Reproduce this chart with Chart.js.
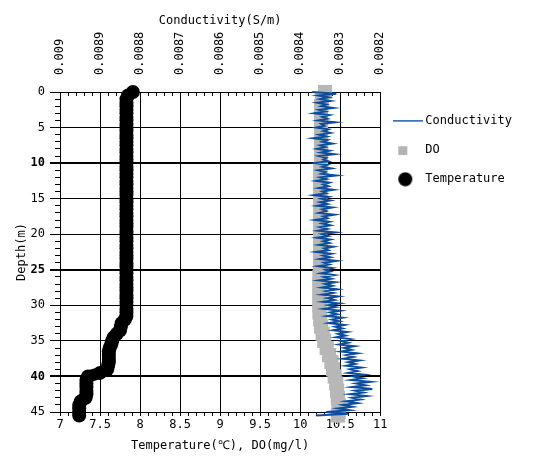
<!DOCTYPE html>
<html>
<head>
<meta charset="utf-8">
<script src="https://cdn.jsdelivr.net/npm/chart.js@4.4.1/dist/chart.umd.min.js"></script>
<style>
html,body{margin:0;padding:0;background:#fff;}
canvas{display:block;}
</style>
</head>
<body>
<canvas id="c" width="537" height="456"></canvas>
<script>
// ---------- tick labels ----------
const tempTickLabels = ['7','7.5','8','8.5','9','9.5','10','10.5','11'];
const condTickLabels = ['0.009','0.0089','0.0088','0.0087','0.0086','0.0085','0.0084','0.0083','0.0082'];
const depthTickLabels = ['0','5','10','15','20','25','30','35','40','45'];
const boldDepths = [10, 25, 40];

// ---------- Temperature (deg C) ----------
const tempDepth = [0,0.5,1,1.5,2,2.5,3,3.5,4,4.5,5,5.5,6,6.5,7,7.5,8,8.5,9,9.5,10,10.5,11,11.5,12,12.5,13,13.5,14,14.5,15,15.5,16,16.5,17,17.5,18,18.5,19,19.5,20,20.5,21,21.5,22,22.5,23,23.5,24,24.5,25,25.5,26,26.5,27,27.5,28,28.5,29,29.5,30,30.5,31,31.5,32,32.5,33,33.5,34,34.5,35,35.5,36,36.5,37,37.5,38,38.5,39,39.5,40,40.5,41,41.5,42,42.5,43,43.5,44,44.5,45,45.5];
const tempValues = [7.91,7.85,
7.83,7.83,7.83,7.83,7.83,7.83,7.83,7.83,7.83,7.83,
7.83,7.83,7.83,7.83,7.83,7.83,7.83,7.83,7.83,7.83,
7.83,7.83,7.83,7.83,7.83,7.83,7.83,7.83,7.83,7.83,
7.83,7.83,7.83,7.83,7.83,7.83,7.83,7.83,7.83,7.83,
7.83,7.83,7.83,7.83,7.83,7.83,7.83,7.83,7.83,7.83,
7.83,7.83,7.83,7.83,7.83,7.83,7.83,7.83,7.83,7.83,
7.83,7.83,
7.81,7.77,7.76,7.75,7.71,7.67,7.65,7.64,7.62,7.61,7.61,7.61,7.61,7.60,7.59,7.50,
7.35,7.33,7.33,7.33,7.33,7.33,7.32,7.26,7.24,7.24,7.24,7.24];

// ---------- DO (mg/l) ----------
const doDepth = [0,1,2,3,4,5,6,7,8,9,10,11,12,13,14,15,16,17,18,19,20,21,22,23,24,25,26,27,28,29,30,31,32,33,34,35,36,37,38,39,40,41,42,43,44,45,45.5];
const doValues = [10.31,10.27,
10.26,10.26,10.26,10.26,10.26,10.26,10.26,10.26,10.26,
10.25,10.25,10.25,10.25,10.25,10.25,10.25,10.25,10.25,10.25,10.25,10.25,10.25,10.25,10.25,
10.24,10.24,10.24,10.24,10.24,10.24,
10.25,10.26,10.28,10.30,10.33,10.36,10.39,10.41,10.43,10.45,10.46,10.47,10.48,10.48,10.47];

// ---------- Conductivity (S/m) ----------
const condDepth = [0,0.25,0.5,0.75,1,1.25,1.5,1.75,2,2.25,2.5,2.75,3,3.25,3.5,3.75,4,4.25,4.5,4.75,5,5.25,5.5,5.75,6,6.25,6.5,6.75,7,7.25,7.5,7.75,8,8.25,8.5,8.75,9,9.25,9.5,9.75,10,10.25,10.5,10.75,11,11.25,11.5,11.75,12,12.25,12.5,12.75,13,13.25,13.5,13.75,14,14.25,14.5,14.75,15,15.25,15.5,15.75,16,16.25,16.5,16.75,17,17.25,17.5,17.75,18,18.25,18.5,18.75,19,19.25,19.5,19.75,20,20.25,20.5,20.75,21,21.25,21.5,21.75,22,22.25,22.5,22.75,23,23.25,23.5,23.75,24,24.25,24.5,24.75,25,25.25,25.5,25.75,26,26.25,26.5,26.75,27,27.25,27.5,27.75,28,28.25,28.5,28.75,29,29.25,29.5,29.75,30,30.25,30.5,30.75,31,31.25,31.5,31.75,32,32.25,32.5,32.75,33,33.25,33.5,33.75,34,34.25,34.5,34.75,35,35.25,35.5,35.75,36,36.25,36.5,36.75,37,37.25,37.5,37.75,38,38.25,38.5,38.75,39,39.25,39.5,39.75,40,40.25,40.5,40.75,41,41.25,41.5,41.75,42,42.25,42.5,42.75,43,43.25,43.5,43.75,44,44.25,44.5,44.75,45,45.25,45.5];
const condValues = [
0.00837,0.00831,0.008355,0.00833,0.00835,0.008325,0.0083575,0.008335,0.0083475,0.0083175,
0.0083525,0.0083375,0.008365,0.0083275,0.008345,0.0083325,0.008355,0.0083125,0.0083475,0.00834,
0.00836,0.00833,0.0083425,0.008325,0.0083525,0.008335,0.0083675,0.0083325,0.008345,0.00832,
0.00835,0.0083375,0.0083575,0.0083275,0.0083475,0.008315,0.0083525,0.008335,0.0083425,0.00833,
0.0083625,0.0083325,0.008345,0.0083225,0.008355,0.0083375,0.0083475,0.00831,0.00835,0.008335,
0.00836,0.0083275,0.0083425,0.00833,0.0083525,0.0083175,0.008345,0.008335,0.008365,0.00833,
0.0083475,0.008325,0.00835,0.0083325,0.0083575,0.00832,0.008345,0.008335,0.0083525,0.008315,
0.0083425,0.0083325,0.0083625,0.0083275,0.008345,0.008325,0.00835,0.0083325,0.008355,0.0083125,
0.008345,0.00833,0.0083575,0.008325,0.0083425,0.0083275,0.0083525,0.0083175,0.00834,0.00833,
0.00836,0.0083225,0.0083425,0.008325,0.00835,0.00831,0.00834,0.0083275,0.008355,0.00832,
0.0083375,0.008325,0.0083475,0.008315,0.00834,0.0083225,0.0083525,0.0083125,0.0083375,0.00832,
0.008345,0.0083075,0.008335,0.0083175,0.008345,0.008305,0.0083325,0.008315,0.0083425,0.0083025,
0.00833,0.0083125,0.00834,0.0083,0.008325,0.0083075,0.0083325,0.008295,0.00832,0.0083025,
0.0083275,0.00829,0.0083125,0.008295,0.0083175,0.0082825,0.008305,0.0082875,0.00831,0.008275,
0.0082975,0.00828,0.0083025,0.008265,0.00829,0.0082725,0.0082975,0.0082575,0.008285,0.0082675,
0.0082925,0.0082525,0.00828,0.0082625,0.008285,0.0082475,0.008275,0.0082575,0.00828,0.00824,
0.0082675,0.008245,0.0082725,0.008225,0.00826,0.0082375,0.00827,0.00822,0.0082625,0.0082425,
0.008275,0.008235,0.00827,0.00825,0.008285,0.0082575,0.0082925,0.00827,0.008305,0.0082775,
0.008335,0.00828,0.00836];

// ---------- helpers ----------
const F = '"DejaVu Sans Mono", "Liberation Mono", monospace';
const findLabel = (arr, v) => { const s = arr.find(t => Math.abs(parseFloat(t) - v) < 1e-9); return s === undefined ? null : s; };
const pairs = (ys, xs) => ys.map((y, i) => ({x: xs[i], y: y}));

function icon(w, h, draw) {
  const c = document.createElement('canvas');
  c.width = w; c.height = h;
  draw(c.getContext('2d'));
  return c;
}
const legendIcons = [
  icon(30, 3, g => { g.fillStyle = '#3f75bb'; g.fillRect(0, 0, 30, 2); }),
  icon(22, 10, g => { g.fillStyle = '#b4b4b4'; g.fillRect(1, 1, 9, 9); }),
  icon(22, 15, g => { g.fillStyle = '#000'; g.beginPath(); g.arc(8, 7.5, 7, 0, Math.PI * 2); g.fill(); })
];

new Chart(document.getElementById('c'), {
  type: 'scatter',
  data: {
    datasets: [
      {
        label: 'Conductivity',
        data: pairs(condDepth, condValues),
        xAxisID: 'xTop', yAxisID: 'y',
        showLine: true,
        borderColor: '#0c4d9c',
        borderWidth: 2,
        pointRadius: 0,
        clip: false
      },
      {
        label: 'DO',
        data: pairs(doDepth, doValues),
        xAxisID: 'x', yAxisID: 'y',
        showLine: true,
        borderColor: '#b7b7b7',
        borderWidth: 12,
        pointStyle: 'rect',
        pointRadius: 10,
        pointBackgroundColor: '#b7b7b7',
        pointBorderWidth: 0,
        clip: false
      },
      {
        label: 'Temperature',
        data: pairs(tempDepth, tempValues),
        xAxisID: 'x', yAxisID: 'y',
        showLine: true,
        borderColor: '#000',
        borderWidth: 12,
        borderJoinStyle: 'round',
        borderCapStyle: 'round',
        pointStyle: 'circle',
        pointRadius: 7,
        pointBackgroundColor: '#000',
        pointBorderWidth: 0,
        clip: false
      }
    ]
  },
  options: {
    responsive: false,
    animation: false,
    layout: { padding: { right: 15 } },
    plugins: {
      tooltip: { enabled: false },
      legend: {
        position: 'right',
        align: 'start',
        fullSize: false,
        maxWidth: 200,
        title: { display: true, text: ' ', font: { size: 1 }, padding: { top: 5, bottom: 0 } },
        labels: {
          usePointStyle: true,
          pointStyleWidth: 22,
          padding: 17,
          color: '#000',
          font: { family: F, size: 12 },
          generateLabels: chart => chart.data.datasets.map((ds, i) => ({
            text: ds.label,
            pointStyle: legendIcons[i],
            fillStyle: 'transparent',
            strokeStyle: 'transparent',
            lineWidth: 0,
            hidden: false,
            datasetIndex: i,
            fontColor: '#000'
          }))
        }
      }
    },
    scales: {
      x: {
        type: 'linear', position: 'bottom',
        min: 7, max: 11,
        afterFit: s => { s.height = 44; },
        ticks: {
          stepSize: 0.1, autoSkip: false, maxRotation: 0, minRotation: 0, padding: 2,
          color: '#000', font: { family: F, size: 12 },
          callback: v => findLabel(tempTickLabels, v) ?? ''
        },
        grid: {
          color: c => (c.tick && findLabel(tempTickLabels, c.tick.value) !== null) ? '#000' : 'rgba(0,0,0,0)',
          tickColor: '#000', tickLength: 4, lineWidth: 1
        },
        border: { display: true, color: '#000', width: 1 },
        title: { display: true, text: 'Temperature(℃), DO(mg/l)', color: '#000', font: { family: F, size: 12 }, padding: { top: 0, bottom: 3 } }
      },
      xTop: {
        type: 'linear', position: 'top',
        min: 0.0082, max: 0.009, reverse: true,
        afterFit: s => { s.height = 92; },
        ticks: {
          stepSize: 0.00002, autoSkip: false, maxRotation: 90, minRotation: 90, padding: 21, labelOffset: 14,
          color: '#000', font: { family: F, size: 12 },
          callback: v => findLabel(condTickLabels, v) ?? ''
        },
        grid: { drawOnChartArea: false, color: '#000', tickLength: -4, lineWidth: 1 },
        border: { display: true, color: '#000', width: 1 },
        title: { display: true, text: 'Conductivity(S/m)', color: '#000', font: { family: F, size: 12 }, padding: { top: 14, bottom: 0 } }
      },
      y: {
        type: 'linear', position: 'left', weight: 1,
        min: 0, max: 45, reverse: true,
        afterFit: s => { s.width = 60; },
        ticks: {
          stepSize: 5, autoSkip: false, padding: 5, color: '#000',
          font: c => ({ family: F, size: 12, weight: (c.tick && boldDepths.includes(c.tick.value)) ? 'bold' : 'normal' }),
          callback: v => findLabel(depthTickLabels, v) ?? ''
        },
        grid: {
          color: '#000', tickLength: 10,
          lineWidth: c => (c.tick && boldDepths.includes(c.tick.value)) ? 2 : 1
        },
        border: { display: true, color: '#000', width: 1 },
        title: { display: true, text: 'Depth(m)', color: '#000', font: { family: F, size: 12 }, padding: { top: 15, bottom: 0 } }
      },
      yMinor: {
        type: 'linear', position: 'left', weight: 0,
        min: 0, max: 45, reverse: true,
        afterFit: s => { s.width = 0; },
        ticks: { stepSize: 1, display: false, autoSkip: false },
        grid: { drawOnChartArea: false, color: '#000', tickLength: 5, lineWidth: 1 },
        border: { display: false }
      }
    }
  }
});
</script>
</body>
</html>
